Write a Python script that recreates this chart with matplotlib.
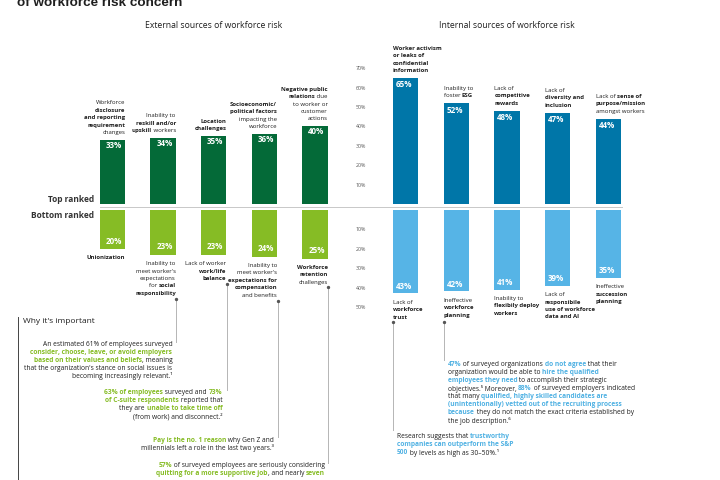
import matplotlib
matplotlib.use("Agg")
import matplotlib.pyplot as plt
from matplotlib import font_manager

FAM = ["Open Sans", "DejaVu Sans"]
plt.rcParams["font.family"] = FAM

DARK = "#1f1f1f"
GREEN_D = "#046a38"
GREEN_L = "#86bc25"
BLUE_D = "#0076a8"
BLUE_L = "#56b4e6"
HL_G = "#86bc25"
HL_B = "#4fb1e3"
GREY = "#b5b5b5"

# data
ext_top_vals = [33, 34, 35, 36, 40]
ext_bot_vals = [20, 23, 23, 24, 25]
int_top_vals = [65, 52, 48, 47, 44]
int_bot_vals = [43, 42, 41, 39, 35]

# labels: each line is a list of (text, bold)
ext_top_labels = [
    [[("Workforce", 0)], [("disclosure", 1)], [("and reporting", 1)], [("requirement", 1)], [("changes", 0)]],
    [[("Inability to", 0)], [("reskill and/or", 1)], [("upskill", 1), (" workers", 0)]],
    [[("Location", 1)], [("challenges", 1)]],
    [[("Socioeconomic/", 1)], [("political factors", 1)], [("impacting the", 0)], [("workforce", 0)]],
    [[("Negative public", 1)], [("relations", 1), (" due", 0)], [("to worker or", 0)], [("customer", 0)], [("actions", 0)]],
]
ext_bot_labels = [
    [[("Unionization", 1)]],
    [[("Inability to", 0)], [("meet worker's", 0)], [("expectations", 0)], [("for ", 0), ("social", 1)], [("responsibility", 1)]],
    [[("Lack of worker", 0)], [("work/life", 1)], [("balance", 1)]],
    [[("Inability to", 0)], [("meet worker's", 0)], [("expectations for", 1)], [("compensation", 1)], [("and benefits", 0)]],
    [[("Workforce", 1)], [("retention", 1)], [("challenges", 0)]],
]
int_top_labels = [
    [[("Worker activism", 1)], [("or leaks of", 1)], [("confidential", 1)], [("information", 1)]],
    [[("Inability to", 0)], [("foster ", 0), ("ESG", 1)]],
    [[("Lack of", 0)], [("competitive", 1)], [("rewards", 1)]],
    [[("Lack of", 0)], [("diversity and", 1)], [("inclusion", 1)]],
    [[("Lack of ", 0), ("sense of", 1)], [("purpose/mission", 1)], [("amongst workers", 0)]],
]
int_bot_labels = [
    [[("Lack of", 0)], [("workforce", 1)], [("trust", 1)]],
    [[("Ineffective", 0)], [("workforce", 1)], [("planning", 1)]],
    [[("Inability to", 0)], [("flexibily deploy", 1)], [("workers", 1)]],
    [[("Lack of", 0)], [("responsibile", 1)], [("use of workforce", 1)], [("data and AI", 1)]],
    [[("Ineffective", 0)], [("succession", 1)], [("planning", 1)]],
]

fig = plt.figure(figsize=(7.2, 4.8), dpi=100)
fig.patch.set_facecolor("white")
W, H = 720, 480


def px_axes(x0, y0, x1, y1):
    return fig.add_axes([x0 / W, (H - y1) / H, (x1 - x0) / W, (y1 - y0) / H])


PXU = 1.94  # px per percentage point
ax_et = px_axes(87.2, 204 - 75 * PXU, 340.2, 204)
ax_eb = px_axes(87.2, 210, 340.2, 210 + 55 * PXU)
ax_it = px_axes(380.2, 204 - 75 * PXU, 633.7, 204)
ax_ib = px_axes(380.2, 210, 633.7, 210 + 55 * PXU)

idx = range(5)
ax_et.bar(idx, ext_top_vals, width=0.5, color=GREEN_D)
ax_eb.bar(idx, ext_bot_vals, width=0.5, color=GREEN_L)
ax_it.bar(idx, int_top_vals, width=0.5, color=BLUE_D)
ax_ib.bar(idx, int_bot_vals, width=0.5, color=BLUE_L)

for a in (ax_et, ax_it):
    a.set_ylim(0, 75)
for a in (ax_eb, ax_ib):
    a.set_ylim(55, 0)
for a in (ax_et, ax_eb, ax_it, ax_ib):
    a.set_xlim(-0.5, 4.5)
    a.set_frame_on(False)
    a.set_xticks([])
    a.set_facecolor("none")
for a in (ax_et, ax_eb):
    a.set_yticks([])

ax_it.set_yticks(range(10, 80, 10))
ax_it.set_yticklabels([f"{t}%" for t in range(10, 80, 10)])
ax_ib.set_yticks(range(10, 60, 10))
ax_ib.set_yticklabels([f"{t}%" for t in range(10, 60, 10)])
for a in (ax_it, ax_ib):
    a.tick_params(axis="y", length=0, pad=10, labelsize=3.8, labelcolor="#555555")

# value labels
for i, v in enumerate(ext_top_vals):
    ax_et.text(i + 0.03, v - 2.8, f"{v}%", ha="center", va="center", color="white",
               fontsize=5.8, fontweight="bold")
for i, v in enumerate(ext_bot_vals):
    ax_eb.text(i + 0.03, v - 4.0, f"{v}%", ha="center", va="center", color="white",
               fontsize=5.8, fontweight="bold")
for i, v in enumerate(int_top_vals):
    ax_it.text(i - 0.19, v - 3.6, f"{v}%", ha="left", va="center", color="white",
               fontsize=5.8, fontweight="bold")
for i, v in enumerate(int_bot_vals):
    ax_ib.text(i - 0.19, v - 3.8, f"{v}%", ha="left", va="center", color="white",
               fontsize=5.8, fontweight="bold")

# overlay in pixel coordinates
ov = fig.add_axes([0, 0, 1, 1], zorder=5)
ov.set_xlim(0, W)
ov.set_ylim(H, 0)
ov.axis("off")
ov.patch.set_alpha(0)

renderer = fig.canvas.get_renderer()


def text_w(s, size, bold, family=None):
    def w(t):
        o = ov.text(0, 0, t, fontsize=size, fontweight="bold" if bold else "normal")
        if family:
            o.set_family(family)
        e = o.get_window_extent(renderer).width
        o.remove()
        return e
    return w("|" + s + "|") - w("||")


def rich(x, y, segs, ha="left", size=4.35, hl=DARK):
    widths = [text_w(t, size, b) for t, b in segs]
    total = sum(widths)
    start = x - total if ha == "right" else x
    for (t, b), w in zip(segs, widths):
        ov.text(start, y, t, fontsize=size, fontweight="bold" if b else "normal",
                color=hl if b else DARK, va="center", ha="left")
        start += w


def to_px(ax, x, y):
    dx, dy = ax.transData.transform((x, y))
    return dx, H - dy


LS = 7.4
for ax, vals, labels, side, up in [
    (ax_et, ext_top_vals, ext_top_labels, "right", True),
    (ax_eb, ext_bot_vals, ext_bot_labels, "right", False),
    (ax_it, int_top_vals, int_top_labels, "left", True),
    (ax_ib, int_bot_vals, int_bot_labels, "left", False),
]:
    for i, (v, lines) in enumerate(zip(vals, labels)):
        edge = i + 0.25 if side == "right" else i - 0.25
        x, y = to_px(ax, edge, v)
        n = len(lines)
        for k, segs in enumerate(lines):
            if up:
                yy = y - 7.5 - (n - 1 - k) * LS
            else:
                yy = y + 9.0 + k * LS
            rich(x, yy, segs, ha=side, size=4.35)

# title (cut off at the top edge, as in the source)
title_fam = "DejaVu Sans"
for cand in ["Liberation Sans Narrow", "Liberation Sans"]:
    try:
        font_manager.findfont(font_manager.FontProperties(family=cand), fallback_to_default=False)
        title_fam = cand
        break
    except Exception:
        pass
title = "of workforce risk concern"
tsize = 11 * 165 / text_w(title, 11, True, title_fam)
ov.text(17, 6.5, title, fontsize=tsize, fontweight="bold", family=title_fam,
        color=DARK, va="baseline")

ov.text(214, 25, "External sources of workforce risk", fontsize=6.2, color=DARK, ha="center", va="center")
ov.text(507, 25, "Internal sources of workforce risk", fontsize=6.2, color=DARK, ha="center", va="center")
ov.text(94, 200, "Top ranked", fontsize=6, fontweight="bold", color="#333333", ha="right", va="center")
ov.text(94, 215, "Bottom ranked", fontsize=6, fontweight="bold", color="#333333", ha="right", va="center")
ov.plot([100, 622], [206.5, 206.5], color="#c8c8c8", lw=0.7)

# connector lines
for x, y0, y1 in [(176.3, 299, 342), (227, 284, 390), (277.7, 301, 437), (328.3, 287, 463),
                  (392.7, 322, 430), (444.3, 322, 360)]:
    ov.plot([x, x], [y0, y1], color=GREY, lw=0.7)
    ov.plot([x], [y0], marker="o", ms=1.4, color="#555555")
ov.plot([18.3, 18.3], [317, 480], color="#444444", lw=0.7)

ov.text(23.3, 321.7, "Why it's important", fontsize=6.0, color=DARK, va="center")

PS = 4.8
PL = 8.0
paras_green = [
    (172.3, 344.3, [
        [("An estimated 61% of employees surveyed", 0)],
        [("consider, choose, leave, or avoid employers", 1)],
        [("based on their values and beliefs", 1), (", meaning", 0)],
        [("that the organization's stance on social issues is", 0)],
        [("becoming increasingly relevant.¹", 0)],
    ]),
    (222.3, 392.7, [
        [("63% of employees", 1), (" surveyed and ", 0), ("73%", 1)],
        [("of C-suite respondents", 1), (" reported that", 0)],
        [("they are ", 0), ("unable to take time off", 1)],
        [("(from work) and disconnect.²", 0)],
    ]),
    (274, 440, [
        [("Pay is the no. 1 reason", 1), (" why Gen Z and", 0)],
        [("millennials left a role in the last two years.³", 0)],
    ]),
    (325, 465.7, [
        [("57%", 1), (" of surveyed employees are seriously considering", 0)],
        [("quitting for a more supportive job", 1), (", and nearly ", 0), ("seven", 1)],
    ]),
]
for x, y, lines in paras_green:
    for k, segs in enumerate(lines):
        rich(x, y + k * PL, segs, ha="right", size=PS, hl=HL_G)

paras_blue = [
    (447.7, 365, [
        [("47%", 1), (" of surveyed organizations ", 0), ("do not agree", 1), (" that their", 0)],
        [("organization would be able to ", 0), ("hire the qualified", 1)],
        [("employees they need", 1), (" to accomplish their strategic", 0)],
        [("objectives.⁵ Moreover, ", 0), ("88%", 1), (" of surveyed employers indicated", 0)],
        [("that many ", 0), ("qualified, highly skilled candidates are", 1)],
        [("(unintentionally) vetted out of the recruiting process", 1)],
        [("because", 1), (" they do not match the exact criteria established by", 0)],
        [("the job description.⁶", 0)],
    ]),
    (396.7, 436.7, [
        [("Research suggests that ", 0), ("trustworthy", 1)],
        [("companies can outperform the S&P", 1)],
        [("500", 1), (" by levels as high as 30–50%.¹", 0)],
    ]),
]
for x, y, lines in paras_blue:
    for k, segs in enumerate(lines):
        rich(x, y + k * PL, segs, ha="left", size=PS, hl=HL_B)

fig.savefig("out.png", dpi=100)
